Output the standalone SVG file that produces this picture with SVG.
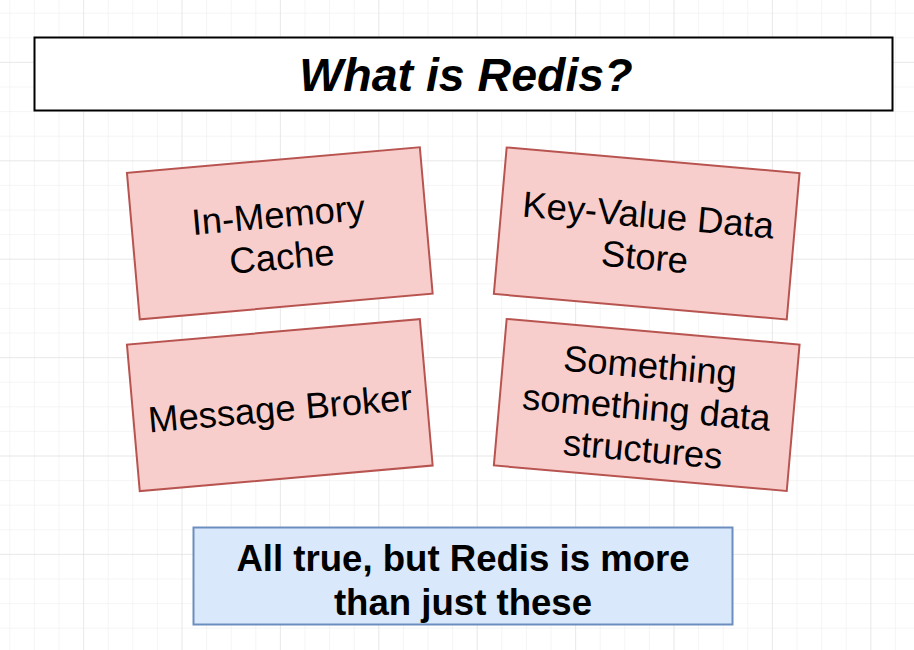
<svg xmlns="http://www.w3.org/2000/svg" width="914" height="650" viewBox="0 0 914 650">
<style>
.card rect{fill:#f8cecc;stroke:#b85450;stroke-width:2}
.card text{font-family:"Liberation Sans",Arial,sans-serif;font-size:36.4px;fill:#000;text-anchor:middle}
.title text{font-family:"Liberation Sans",Arial,sans-serif;font-size:46.5px;font-weight:bold;font-style:italic;text-anchor:middle}
.note text{font-family:"Liberation Sans",Arial,sans-serif;font-size:36.6px;font-weight:bold;text-anchor:middle}
</style>
<defs>
<pattern id="minor" x="9.3" y="12.7" width="24.6" height="24.6" patternUnits="userSpaceOnUse">
<path d="M0 0V24.6M0 0H24.6" fill="none" stroke="#ececec" stroke-width="1"/>
</pattern>
<pattern id="major" x="-15.3" y="-36.5" width="98.4" height="98.4" patternUnits="userSpaceOnUse">
<path d="M0 0V98.4M0 0H98.4" fill="none" stroke="#dedede" stroke-width="1"/>
</pattern>
</defs>
<rect width="914" height="650" fill="#ffffff"/>
<rect width="914" height="650" fill="url(#minor)"/>
<rect width="914" height="650" fill="url(#major)"/>
<g id="connectors"/>
<g id="title" class="title">
<rect x="34.5" y="37.5" width="858" height="73" fill="#ffffff" stroke="#000000" stroke-width="2"/>
<text x="466" y="91">What is Redis?</text>
</g>
<g id="in-memory-cache" class="card" transform="translate(279.8,233.3) rotate(-5)">
<rect x="-147" y="-73.5" width="294" height="147"/>
<text x="0" y="-6">In-Memory</text>
<text x="0" y="36">Cache</text>
</g>
<g id="key-value-store" class="card" transform="translate(646.7,233.5) rotate(5)">
<rect x="-147" y="-73.5" width="294" height="147"/>
<text x="0" y="-6">Key-Value Data</text>
<text x="0" y="36">Store</text>
</g>
<g id="message-broker" class="card" transform="translate(279.8,405.1) rotate(-5)">
<rect x="-147" y="-73.5" width="294" height="147"/>
<text x="0" y="16">Message Broker</text>
</g>
<g id="data-structures" class="card" transform="translate(646.7,405) rotate(5)">
<rect x="-147" y="-73.5" width="294" height="147"/>
<text x="0" y="-27">Something</text>
<text x="0" y="15">something data</text>
<text x="0" y="57">structures</text>
</g>
<g id="summary" class="note">
<rect x="193.5" y="527.5" width="539" height="97" fill="#dae8fc" stroke="#6c8ebf" stroke-width="2"/>
<text x="463" y="571">All true, but Redis is more</text>
<text x="463" y="615">than just these</text>
</g>
</svg>
